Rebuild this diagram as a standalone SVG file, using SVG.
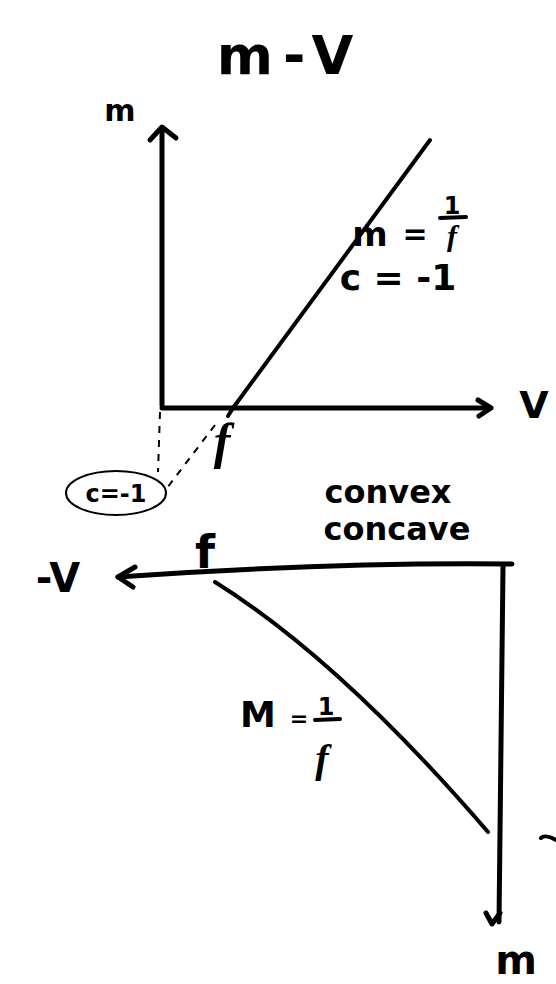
<svg xmlns="http://www.w3.org/2000/svg" width="556" height="984" viewBox="0 0 556 984">
<style>
.ax{fill:none;stroke:#000;stroke-width:5;stroke-linecap:round;stroke-linejoin:round}
.ln{fill:none;stroke:#000;stroke-width:4;stroke-linecap:round;stroke-linejoin:round}
.dash{fill:none;stroke:#000;stroke-width:2;stroke-dasharray:7 7}
.t{font-family:"DejaVu Sans","Liberation Sans",sans-serif;font-weight:bold;fill:#000}
.it{font-family:"Liberation Serif","DejaVu Serif",serif;font-style:italic;font-weight:bold;fill:#000}
</style>
<rect width="556" height="984" fill="#fff"/>
<g id="title"><text class="t" x="290" y="74" font-size="54" text-anchor="middle" letter-spacing="10">m-V</text></g>
<g id="connectors">
  <path class="ax" d="M162,405 L162,128"/>
  <path class="ax" d="M150,140 L162,127 L176,138"/>
  <path class="ax" d="M162,408 L490,408"/>
  <path class="ax" d="M478,400 L491,408 L479,416"/>
  <path class="ln" d="M233,408 L430,140"/>
  <path class="ln" d="M228,416 L233,408"/>
  <path class="dash" d="M160,412 L158,472"/>
  <path class="dash" d="M215,425 L167,488"/>
  <path class="ax" d="M512,564 Q330,562 118,577"/>
  <path class="ax" d="M135,567 L118,577 L133,587"/>
  <path class="ax" d="M503,566 L499,922"/>
  <path class="ax" d="M486,913 L492,924 L500,913"/>
  <path class="ln" d="M215,582 Q340,660 488,832"/>
  <path class="ln" d="M541,838 Q545,834 556,840"/>
</g>
<g id="axis-labels">
  <text class="t" x="120" y="121" font-size="30" text-anchor="middle">m</text>
  <text class="t" x="534" y="418" font-size="38" text-anchor="middle">V</text>
  <text class="t" x="58" y="592" font-size="40" text-anchor="middle">-V</text>
  <text class="t" x="516" y="974" font-size="40" text-anchor="middle">m</text>
</g>
<g id="top-label">
  <text class="t" x="370" y="246" font-size="34" text-anchor="middle">m</text>
  <text class="t" x="415" y="244" font-size="30" text-anchor="middle">=</text>
  <text class="t" x="452" y="214" font-size="24" text-anchor="middle">1</text>
  <path class="ln" d="M440,218 L466,217"/>
  <text class="it" x="452" y="246" font-size="30" text-anchor="middle">f</text>
  <text class="t" x="398" y="290" font-size="36" text-anchor="middle">c = -1</text>
</g>
<g id="f-top"><text class="it" x="222" y="458" font-size="50" text-anchor="middle">f</text></g>
<g id="c-ellipse">
  <ellipse cx="116" cy="493" rx="50" ry="22" fill="none" stroke="#000" stroke-width="2"/>
  <text class="t" x="116" y="502" font-size="24" text-anchor="middle" font-weight="normal">c=-1</text>
</g>
<g id="convex-concave">
  <text class="t" x="388" y="503" font-size="32" text-anchor="middle">convex</text>
  <text class="t" x="397" y="540" font-size="32" text-anchor="middle">concave</text>
</g>
<g id="f-bottom"><text class="t" x="205" y="568" font-size="46" text-anchor="middle" font-weight="normal">f</text></g>
<g id="bottom-label">
  <text class="t" x="258" y="727" font-size="36" text-anchor="middle">M</text>
  <text class="t" x="299" y="726" font-size="22" text-anchor="middle">=</text>
  <text class="t" x="326" y="715" font-size="24" text-anchor="middle">1</text>
  <path class="ln" d="M315,720 L340,719"/>
  <text class="it" x="322" y="772" font-size="40" text-anchor="middle">f</text>
</g>
</svg>
